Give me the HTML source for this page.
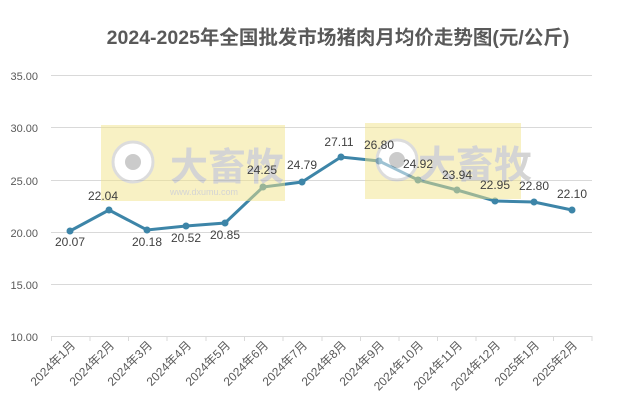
<!DOCTYPE html><html><head><meta charset="utf-8"><style>body{margin:0;background:#fff}svg{display:block}text{font-family:"Liberation Sans","Noto Sans CJK SC",sans-serif}</style></head><body>
<svg width="621" height="409" xmlns="http://www.w3.org/2000/svg">
<rect width="621" height="409" fill="#fff"/>
<text x="338" y="44" text-anchor="middle" font-size="19.5" font-weight="bold" fill="#595959">2024-2025年全国批发市场猪肉月均价走势图(元/公斤)</text>
<g stroke="#d9d9d9" stroke-width="1">
<line x1="51" x2="592" y1="75.5" y2="75.5"/><line x1="51" x2="592" y1="127.5" y2="127.5"/><line x1="51" x2="592" y1="180.5" y2="180.5"/><line x1="51" x2="592" y1="232.5" y2="232.5"/><line x1="51" x2="592" y1="284.5" y2="284.5"/><line x1="51" x2="592" y1="336.5" y2="336.5"/>
</g>
<g font-size="11" fill="#595959" text-anchor="end">
<text x="38" y="80">35.00</text><text x="38" y="132">30.00</text><text x="38" y="185">25.00</text><text x="38" y="237">20.00</text><text x="38" y="289">15.00</text><text x="38" y="341">10.00</text>
</g>
<g stroke="#d9d9d9"><line x1="51.5" x2="51.5" y1="336" y2="341"/><line x1="90" x2="90" y1="336" y2="341"/><line x1="128.5" x2="128.5" y1="336" y2="341"/><line x1="167" x2="167" y1="336" y2="341"/><line x1="206" x2="206" y1="336" y2="341"/><line x1="244.5" x2="244.5" y1="336" y2="341"/><line x1="283" x2="283" y1="336" y2="341"/><line x1="322" x2="322" y1="336" y2="341"/><line x1="360.5" x2="360.5" y1="336" y2="341"/><line x1="399" x2="399" y1="336" y2="341"/><line x1="437.5" x2="437.5" y1="336" y2="341"/><line x1="476" x2="476" y1="336" y2="341"/><line x1="515" x2="515" y1="336" y2="341"/><line x1="553.5" x2="553.5" y1="336" y2="341"/><line x1="592" x2="592" y1="336" y2="341"/></g>
<g font-size="12" fill="#595959" text-anchor="end">
<text transform="translate(76,346) rotate(-45)">2024年1月</text>
<text transform="translate(115,346) rotate(-45)">2024年2月</text>
<text transform="translate(153,346) rotate(-45)">2024年3月</text>
<text transform="translate(192,346) rotate(-45)">2024年4月</text>
<text transform="translate(231,346) rotate(-45)">2024年5月</text>
<text transform="translate(269,346) rotate(-45)">2024年6月</text>
<text transform="translate(308,346) rotate(-45)">2024年7月</text>
<text transform="translate(347,346) rotate(-45)">2024年8月</text>
<text transform="translate(385,346) rotate(-45)">2024年9月</text>
<text transform="translate(424,346) rotate(-45)">2024年10月</text>
<text transform="translate(463,346) rotate(-45)">2024年11月</text>
<text transform="translate(501,346) rotate(-45)">2024年12月</text>
<text transform="translate(540,346) rotate(-45)">2025年1月</text>
<text transform="translate(578,346) rotate(-45)">2025年2月</text>
</g>
<polyline fill="none" stroke="#3d85a8" stroke-width="3" points="70,231 109,210 147,230 186,226 225,223 263,187 302,182 341,157 379,161 418,180 457,190 495,201 534,202 572,210"/>
<g fill="#3d85a8">
<circle cx="70" cy="231" r="3.5"/><circle cx="109" cy="210" r="3.5"/><circle cx="147" cy="230" r="3.5"/><circle cx="186" cy="226" r="3.5"/><circle cx="225" cy="223" r="3.5"/><circle cx="263" cy="187" r="3.5"/><circle cx="302" cy="182" r="3.5"/><circle cx="341" cy="157" r="3.5"/><circle cx="379" cy="161" r="3.5"/><circle cx="418" cy="180" r="3.5"/><circle cx="457" cy="190" r="3.5"/><circle cx="495" cy="201" r="3.5"/><circle cx="534" cy="202" r="3.5"/><circle cx="572" cy="210" r="3.5"/>
</g>
<g opacity="0.5">
<rect x="101" y="125" width="184" height="76" fill="#f2e48a"/>
<rect x="365" y="123" width="156" height="76" fill="#f2e48a"/>
<circle cx="133" cy="162" r="20" fill="#fff" stroke="#bbb" stroke-width="3"/><circle cx="133" cy="162" r="8" fill="#999"/>
<text x="170" y="180" font-size="38" font-weight="bold" fill="#aaa">大畜牧</text>
<text x="170" y="195" font-size="9" fill="#aaa">www.dxumu.com</text>
<circle cx="397" cy="160" r="20" fill="#fff" stroke="#bbb" stroke-width="3"/><circle cx="397" cy="160" r="8" fill="#999"/>
<text x="418" y="178" font-size="38" font-weight="bold" fill="#aaa">大畜牧</text>
</g>
<g font-size="12" fill="#404040" text-anchor="middle">
<text x="70" y="246">20.07</text><text x="103" y="200">22.04</text><text x="147" y="246">20.18</text><text x="186" y="242">20.52</text><text x="225" y="239">20.85</text><text x="262" y="174">24.25</text><text x="302" y="169">24.79</text><text x="339" y="146">27.11</text><text x="379" y="149">26.80</text><text x="418" y="168">24.92</text><text x="457" y="179">23.94</text><text x="495" y="189">22.95</text><text x="534" y="190">22.80</text><text x="572" y="198">22.10</text>
</g>
</svg></body></html>
